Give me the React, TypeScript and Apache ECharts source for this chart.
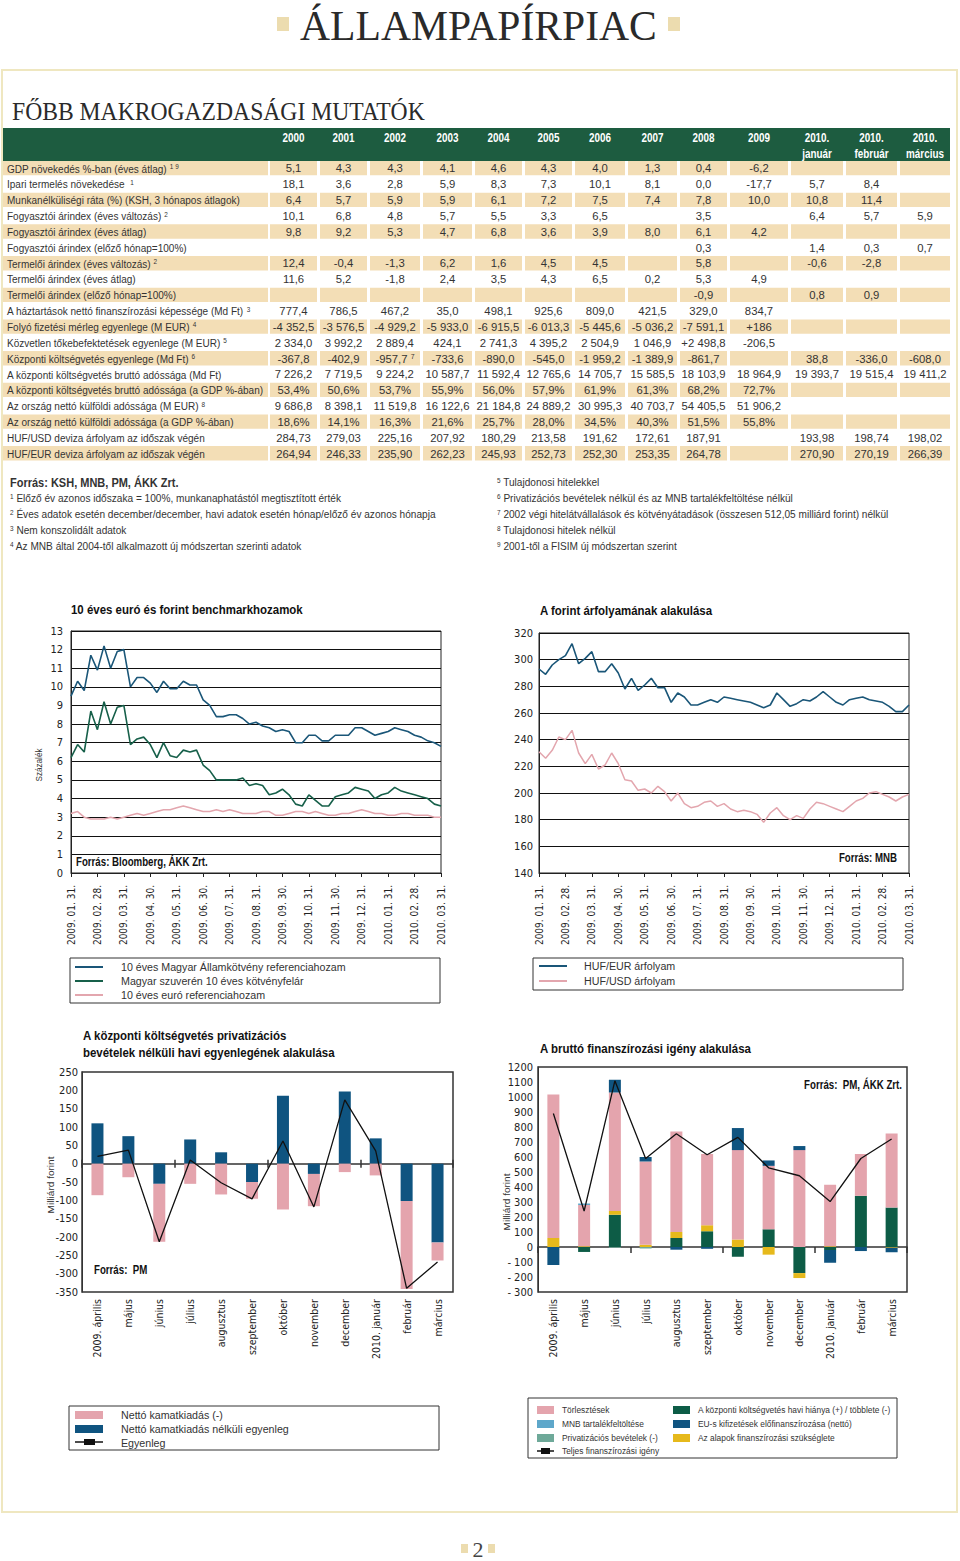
import React, { useEffect, useRef } from 'react';
import * as echarts from 'echarts';

const NARROW = "'Liberation Sans Narrow', 'Arial Narrow', 'DejaVu Sans Condensed', sans-serif";
const SANS = "'Liberation Sans', Arial, sans-serif";
const SERIF = "'Liberation Serif', 'DejaVu Serif', serif";

// ---------- Table data ----------
const YEARS = ['2000', '2001', '2002', '2003', '2004', '2005', '2006', '2007', '2008', '2009', '2010.\njanuár', '2010.\nfebruár', '2010.\nmárcius'];
const ROW_LABELS = [
  'GDP növekedés %-ban (éves átlag)',
  'Ipari termelés növekedése ',
  'Munkanélküliségi ráta (%) (KSH, 3 hónapos átlagok)',
  'Fogyasztói árindex (éves változás)',
  'Fogyasztói árindex (éves átlag)',
  'Fogyasztói árindex (előző hónap=100%)',
  'Termelői árindex (éves változás)',
  'Termelői árindex (éves átlag)',
  'Termelői árindex (előző hónap=100%)',
  'A háztartások nettó finanszírozási képessége (Md Ft)',
  'Folyó fizetési mérleg egyenlege (M EUR)',
  'Közvetlen tőkebefektetések egyenlege (M EUR)',
  'Központi költségvetés egyenlege (Md Ft)',
  'A központi költségvetés bruttó adóssága (Md Ft)',
  'A központi költségvetés bruttó adóssága (a GDP %-ában)',
  'Az ország nettó külföldi adóssága (M EUR)',
  'Az ország nettó külföldi adóssága (a GDP %-ában)',
  'HUF/USD deviza árfolyam az időszak végén',
  'HUF/EUR deviza árfolyam az időszak végén',
];
const ROW_NOTES = ['1 9', '1', '', '2', '', '', '2', '', '', '3', '4', '5', '6', '', '', '8', '', '', ''];
const GDP = ['5,1', '4,3', '4,3', '4,1', '4,6', '4,3', '4,0', '1,3', '0,4', '-6,2', '', '', ''];
const IPAR = ['18,1', '3,6', '2,8', '5,9', '8,3', '7,3', '10,1', '8,1', '0,0', '-17,7', '5,7', '8,4', ''];
const MUNKA = ['6,4', '5,7', '5,9', '5,9', '6,1', '7,2', '7,5', '7,4', '7,8', '10,0', '10,8', '11,4', ''];
const CPI_VALT = ['10,1', '6,8', '4,8', '5,7', '5,5', '3,3', '6,5', '', '3,5', '', '6,4', '5,7', '5,9'];
const CPI_ATL = ['9,8', '9,2', '5,3', '4,7', '6,8', '3,6', '3,9', '8,0', '6,1', '4,2', '', '', ''];
const CPI_HO = ['', '', '', '', '', '', '', '', '0,3', '', '1,4', '0,3', '0,7'];
const PPI_VALT = ['12,4', '-0,4', '-1,3', '6,2', '1,6', '4,5', '4,5', '', '5,8', '', '-0,6', '-2,8', ''];
const PPI_ATL = ['11,6', '5,2', '-1,8', '2,4', '3,5', '4,3', '6,5', '0,2', '5,3', '4,9', '', '', ''];
const PPI_HO = ['', '', '', '', '', '', '', '', '-0,9', '', '0,8', '0,9', ''];
const HAZTART = ['777,4', '786,5', '467,2', '35,0', '498,1', '925,6', '809,0', '421,5', '329,0', '834,7', '', '', ''];
const FOLYO = ['-4 352,5', '-3 576,5', '-4 929,2', '-5 933,0', '-6 915,5', '-6 013,3', '-5 445,6', '-5 036,2', '-7 591,1', '+186', '', '', ''];
const FDI = ['2 334,0', '3 992,2', '2 889,4', '424,1', '2 741,3', '4 395,2', '2 504,9', '1 046,9', '+2 498,8', '-206,5', '', '', ''];
const KOLTS = ['-367,8', '-402,9', '-957,7', '-733,6', '-890,0', '-545,0', '-1 959,2', '-1 389,9', '-861,7', '', '38,8', '-336,0', '-608,0'];
const ADOS_MD = ['7 226,2', '7 719,5', '9 224,2', '10 587,7', '11 592,4', '12 765,6', '14 705,7', '15 585,5', '18 103,9', '18 964,9', '19 393,7', '19 515,4', '19 411,2'];
const ADOS_GDP = ['53,4%', '50,6%', '53,7%', '55,9%', '56,0%', '57,9%', '61,9%', '61,3%', '68,2%', '72,7%', '', '', ''];
const KULF_EUR = ['9 686,8', '8 398,1', '11 519,8', '16 122,6', '21 184,8', '24 889,2', '30 995,3', '40 703,7', '54 405,5', '51 906,2', '', '', ''];
const KULF_GDP = ['18,6%', '14,1%', '16,3%', '21,6%', '25,7%', '28,0%', '34,5%', '40,3%', '51,5%', '55,8%', '', '', ''];
const HUFUSD_VEG = ['284,73', '279,03', '225,16', '207,92', '180,29', '213,58', '191,62', '172,61', '187,91', '', '193,98', '198,74', '198,02'];
const HUFEUR_VEG = ['264,94', '246,33', '235,90', '262,23', '245,93', '252,73', '252,30', '253,35', '264,78', '', '270,90', '270,19', '266,39'];
const TABLE_ROWS = [GDP, IPAR, MUNKA, CPI_VALT, CPI_ATL, CPI_HO, PPI_VALT, PPI_ATL, PPI_HO, HAZTART, FOLYO, FDI, KOLTS, ADOS_MD, ADOS_GDP, KULF_EUR, KULF_GDP, HUFUSD_VEG, HUFEUR_VEG];
const CELL_NOTE = { row: 12, col: 2, note: '7' };

const SOURCE_TABLE = 'Forrás: KSH, MNB, PM, ÁKK Zrt.';
const FOOTNOTES_LEFT = [
  ['1', 'Előző év azonos időszaka = 100%, munkanaphatástól megtisztított érték'],
  ['2', 'Éves adatok esetén december/december, havi adatok esetén hónap/előző év azonos hónapja'],
  ['3', 'Nem konszolidált adatok'],
  ['4', 'Az MNB által 2004-től alkalmazott új módszertan szerinti adatok'],
];
const FOOTNOTES_RIGHT = [
  ['5', 'Tulajdonosi hitelekkel'],
  ['6', 'Privatizációs bevételek nélkül és az MNB tartalékfeltöltése nélkül'],
  ['7', '2002 végi hitelátvállalások és kötvényátadások (összesen 512,05 milliárd forint) nélkül'],
  ['8', 'Tulajdonosi hitelek nélkül'],
  ['9', '2001-től a FISIM új módszertan szerint'],
];

// ---------- Line charts (4 samples per month, 2009.01.31 – 2010.03.31) ----------
const DATE_LABELS = ['2009. 01. 31.', '2009. 02. 28.', '2009. 03. 31.', '2009. 04. 30.', '2009. 05. 31.', '2009. 06. 30.', '2009. 07. 31.', '2009. 08. 31.', '2009. 09. 30.', '2009. 10. 31.', '2009. 11. 30.', '2009. 12. 31.', '2010. 01. 31.', '2010. 02. 28.', '2010. 03. 31.'];
const HU_YIELD = [9.5, 10.3, 9.8, 11.7, 10.9, 12.2, 11.0, 11.9, 12.0, 10.0, 10.5, 10.5, 10.2, 9.7, 10.3, 9.9, 9.9, 10.3, 10.1, 10.1, 9.3, 9.0, 8.4, 8.4, 8.5, 8.5, 8.3, 8.0, 8.1, 7.9, 7.8, 7.6, 7.7, 7.6, 7.0, 7.0, 7.4, 7.4, 7.1, 7.1, 7.4, 7.4, 7.4, 7.8, 7.8, 7.6, 7.4, 7.5, 7.6, 7.8, 7.7, 7.6, 7.4, 7.3, 7.1, 7.0, 6.8];
const HU_SPREAD = [6.2, 6.9, 6.5, 8.7, 7.7, 9.2, 8.0, 8.9, 9.0, 6.9, 7.2, 7.3, 6.9, 6.2, 7.0, 6.3, 6.2, 6.6, 6.5, 6.6, 5.8, 5.5, 5.0, 5.0, 5.0, 5.0, 5.1, 4.7, 4.8, 4.7, 4.2, 4.3, 4.5, 4.2, 3.7, 3.6, 4.2, 3.9, 3.6, 3.6, 4.1, 4.2, 4.3, 4.6, 4.5, 4.4, 4.0, 4.2, 4.3, 4.6, 4.4, 4.3, 4.2, 4.1, 4.0, 3.7, 3.6];
const EUR_YIELD = [3.2, 3.3, 3.0, 2.9, 2.9, 2.9, 3.0, 2.9, 3.0, 3.1, 3.2, 3.1, 3.2, 3.3, 3.4, 3.4, 3.5, 3.6, 3.5, 3.4, 3.3, 3.3, 3.4, 3.3, 3.4, 3.3, 3.2, 3.2, 3.2, 3.3, 3.3, 3.1, 3.1, 3.2, 3.3, 3.3, 3.2, 3.3, 3.2, 3.1, 3.1, 3.2, 3.2, 3.3, 3.4, 3.3, 3.2, 3.2, 3.1, 3.1, 3.2, 3.2, 3.1, 3.1, 3.1, 3.0, 3.0];
const HUF_EUR = [293, 289, 296, 300, 303, 312, 297, 301, 306, 291, 291, 297, 290, 278, 286, 277, 281, 286, 279, 279, 268, 275, 272, 266, 266, 268, 270, 268, 272, 271, 270, 269, 268, 266, 264, 266, 275, 270, 265, 267, 270, 269, 272, 276, 272, 268, 266, 270, 271, 272, 270, 269, 268, 265, 261, 261, 266];
const HUF_USD = [231, 226, 232, 242, 240, 247, 230, 222, 229, 218, 221, 230, 222, 210, 209, 202, 203, 200, 205, 201, 194, 200, 192, 189, 190, 193, 194, 190, 192, 188, 186, 187, 186, 184, 178, 185, 189, 183, 180, 183, 181, 188, 193, 192, 190, 188, 186, 190, 194, 196, 200, 201, 199, 197, 194, 197, 199];

// ---------- Bar charts ----------
const MONTHS = ['2009. április', 'május', 'június', 'július', 'augusztus', 'szeptember', 'október', 'november', 'december', '2010. január', 'február', 'március'];
const KAMAT_NELKULI = [110, 75, -55, 66, 31, -50, 185, -28, 197, 69, -102, -215];
const KAMATKIADAS = [-86, -37, -158, -55, -84, -46, -125, -88, -23, -32, -240, -49];
const EGYENLEG = [20, 37, -213, 10, -52, -96, 62, -118, 174, 35, -340, -268];

const TORLESZTES = [956, 275, 790, 555, 670, 475, 596, 423, 646, 410, 279, 493];
const MNB_TARTALEK = [0, 10, 0, 0, 0, 0, 0, 0, 0, 0, 0, 0];
const PRIVATIZACIO = [0, 0, -5, -10, 0, 0, 0, 0, 0, 0, 0, 0];
const KOZPONTI_HIANY = [0, -33, 215, 0, 60, 105, -65, 118, -174, -20, 341, 263];
const EU_ELOFIN = [-120, 0, 85, 30, -18, -12, 147, 36, 27, -85, -27, -30];
const ALAPOK = [60, 5, 25, 15, 40, 40, 50, -51, -33, 5, 0, -5];
const TELJES = [890, 240, 1108, 590, 755, 615, 731, 528, 475, 303, 590, 720];

// ---------- colours ----------
const TXT = '#333';
const HDR_GREEN = '#1d5c40';
const BEIGE = '#f3deb6';
const FRAME = '#efe7c0';
const DECOR = '#ecdcaf';
const PINK = '#e4a4ad';
const BLUE = '#0f5480';
const DKGREEN = '#0d5c46';
const YELLOW = '#e6b91b';
const LTBLUE = '#5ea7ca';
const TEAL = '#6ea999';
const L_BLUE = '#1a5678';
const L_GREEN = '#17604a';
const L_PINK = '#e3a6ae';

let _ctx: CanvasRenderingContext2D | null = null;
function measure(text: string, font: string): number {
  if (!_ctx) _ctx = document.createElement('canvas').getContext('2d');
  if (!_ctx) return text.length * 6;
  _ctx.font = font;
  return _ctx.measureText(text).width;
}
const fit = (text: string, font: string, target: number) => target / measure(text, font);

function txt(x: number, y: number, text: string, o: any = {}) {
  const style: any = {
    text,
    fill: o.fill || TXT,
    fontSize: o.size || 11,
    fontFamily: o.family || SANS,
    fontWeight: o.weight || 'normal',
    align: o.align || 'left',
    textAlign: o.align || 'left',
    verticalAlign: o.va || 'middle',
    textVerticalAlign: o.va || 'middle',
  };
  if (o.rich) style.rich = o.rich;
  return {
    type: 'text', x, y, silent: true, z: 100,
    rotation: o.rotation || 0,
    scaleX: o.sx || 1,
    style,
  };
}
function rect(x: number, y: number, w: number, h: number, fill: string, stroke?: string, lw = 1) {
  return {
    type: 'rect', silent: true, z: 90,
    shape: { x, y, width: w, height: h },
    style: stroke ? { fill: 'transparent', stroke, lineWidth: lw } : { fill },
  };
}
function seg(x1: number, y1: number, x2: number, y2: number, color: string, lw = 1.5) {
  return { type: 'line', silent: true, z: 95, shape: { x1, y1, x2, y2 }, style: { stroke: color, lineWidth: lw } };
}

const SUP_RICH = { s: { fontSize: 7, fontFamily: SANS, fill: TXT, verticalAlign: 'top' } };

function buildGraphics() {
  const els: any[] = [];
  const F_LABEL = fit(ROW_LABELS[14], `11px ${SANS}`, 257);
  const F_VAL = fit('19 393,7', `11.5px ${SANS}`, 44);
  const F_FOOT = fit(FOOTNOTES_LEFT[1][1], `11px ${SANS}`, 420);
  const F_BOLD = fit('10 éves euró és forint benchmarkhozamok', `bold 12.5px ${SANS}`, 232);
  const F_HDR = fit('2000', `bold 12px ${SANS}`, 22);
  const F_SRC = fit('Forrás: Bloomberg, ÁKK Zrt.', `bold 12px ${SANS}`, 132);
  const F_LEG = fit('10 éves Magyar Államkötvény referenciahozam', `11.5px ${SANS}`, 225);
  const F_LEG4 = fit('A központi költségvetés havi hiánya (+) / többlete (-)', `9.5px ${SANS}`, 193);
  const F_MF = fit('Milliárd forint', `9.5px ${SANS}`, 57);
  const F_SZ = fit('Százalék', `9.5px ${SANS}`, 33);

  // page frame & headings
  els.push(rect(2, 70, 955, 1442, '', FRAME, 2));
  const tw = measure('ÁLLAMPAPÍRPIAC', `42px ${SERIF}`);
  els.push(txt(300, 26, 'ÁLLAMPAPÍRPIAC', { family: SERIF, size: 42, fill: '#2a2a2a', sx: 357 / tw }));
  els.push(rect(277, 17, 12, 14, DECOR));
  els.push(rect(668, 17, 12, 14, DECOR));
  const sw = measure('FŐBB MAKROGAZDASÁGI MUTATÓK', `25px ${SERIF}`);
  els.push(txt(12, 111, 'FŐBB MAKROGAZDASÁGI MUTATÓK', { family: SERIF, size: 25, fill: '#2a2a2a', sx: 413 / sw }));

  // table
  const COLS = [[270, 317], [320, 367], [370, 420], [423, 472], [475, 522], [525, 572], [575, 625], [628, 677], [680, 727], [730, 788], [791, 843], [846, 897], [900, 950]];
  const Y0 = 160.5, RH = 15.84;
  els.push(rect(3, 128, 947, 33, HDR_GREEN));
  YEARS.forEach((yr, j) => {
    const cx = (COLS[j][0] + COLS[j][1]) / 2;
    const parts = yr.split('\n');
    els.push(txt(cx, 138, parts[0], { fill: '#fff', weight: 'bold', size: 12, align: 'center', sx: F_HDR }));
    if (parts[1]) els.push(txt(cx, 154, parts[1], { fill: '#fff', weight: 'bold', size: 12, align: 'center', sx: F_HDR }));
  });
  TABLE_ROWS.forEach((vals, i) => {
    const top = Y0 + i * RH;
    const cy = top + RH / 2;
    if (i % 2 === 0) {
      els.push(rect(3, top + 0.5, 265, RH - 1.5, BEIGE));
      COLS.forEach(([a, b]) => els.push(rect(a, top + 0.5, b - a, RH - 1.5, BEIGE)));
    }
    const note = ROW_NOTES[i];
    els.push(txt(7, cy, note ? `${ROW_LABELS[i]} {s|${note}}` : ROW_LABELS[i], { size: 11, rich: SUP_RICH, sx: F_LABEL }));
    vals.forEach((v, j) => {
      if (!v) return;
      const cx = (COLS[j][0] + COLS[j][1]) / 2;
      const withNote = CELL_NOTE.row === i && CELL_NOTE.col === j;
      els.push(txt(cx, cy, withNote ? `${v} {s|${CELL_NOTE.note}}` : v, { size: 11.5, align: 'center', rich: SUP_RICH, sx: F_VAL }));
    });
  });

  // footnotes
  els.push(txt(10, 483, SOURCE_TABLE, { weight: 'bold', size: 12, sx: F_BOLD }));
  FOOTNOTES_LEFT.forEach(([n, t], k) => els.push(txt(10, 498 + k * 16, `{s|${n}} ${t}`, { size: 11, rich: SUP_RICH, sx: F_FOOT })));
  FOOTNOTES_RIGHT.forEach(([n, t], k) => els.push(txt(497, 482 + k * 16, `{s|${n}} ${t}`, { size: 11, rich: SUP_RICH, sx: F_FOOT })));

  // chart 1 texts
  els.push(txt(71, 610, '10 éves euró és forint benchmarkhozamok', { weight: 'bold', size: 12.5, fill: '#111', sx: F_BOLD }));
  els.push(txt(39, 765, 'Százalék', { size: 9.5, align: 'center', rotation: Math.PI / 2, sx: F_SZ }));
  els.push(txt(76, 862, 'Forrás: Bloomberg, ÁKK Zrt.', { weight: 'bold', size: 12, fill: '#111', sx: F_SRC }));
  els.push(rect(70, 958, 370, 45, '', '#333', 1));
  [[L_BLUE, '10 éves Magyar Államkötvény referenciahozam'], [L_GREEN, 'Magyar szuverén 10 éves kötvényfelár'], [L_PINK, '10 éves euró referenciahozam']].forEach(([c, t], k) => {
    els.push(seg(75, 967 + k * 14, 103, 967 + k * 14, c, 2));
    els.push(txt(121, 967 + k * 14, t, { size: 11.5, sx: F_LEG }));
  });

  // chart 2 texts
  els.push(txt(540, 611, 'A forint árfolyamának alakulása', { weight: 'bold', size: 12.5, fill: '#111', sx: F_BOLD }));
  els.push(txt(897, 858, 'Forrás: MNB', { weight: 'bold', size: 12, fill: '#111', align: 'right', sx: F_SRC }));
  els.push(rect(533, 958, 370, 32, '', '#333', 1));
  [[L_BLUE, 'HUF/EUR árfolyam'], [L_PINK, 'HUF/USD árfolyam']].forEach(([c, t], k) => {
    els.push(seg(539, 966 + k * 15, 567, 966 + k * 15, c, 2));
    els.push(txt(584, 966 + k * 15, t, { size: 11.5, sx: F_LEG }));
  });

  // chart 3 texts
  els.push(txt(83, 1036, 'A központi költségvetés privatizációs', { weight: 'bold', size: 12.5, fill: '#111', sx: F_BOLD }));
  els.push(txt(83, 1053, 'bevételek nélküli havi egyenlegének alakulása', { weight: 'bold', size: 12.5, fill: '#111', sx: F_BOLD }));
  els.push(txt(51, 1185, 'Milliárd forint', { size: 9.5, align: 'center', rotation: Math.PI / 2, sx: F_MF }));
  els.push(txt(94, 1270, 'Forrás:  PM', { weight: 'bold', size: 12, fill: '#111', sx: F_SRC }));
  els.push(rect(69, 1406, 370, 44, '', '#333', 1));
  els.push(rect(75, 1411, 28, 8, PINK));
  els.push(rect(75, 1425, 28, 8, BLUE));
  els.push(seg(75, 1442, 103, 1442, '#111', 1.5));
  els.push(rect(84, 1439, 11, 6, '#111'));
  els.push(txt(121, 1415, 'Nettó kamatkiadás (-)', { size: 11.5, sx: F_LEG }));
  els.push(txt(121, 1429, 'Nettó kamatkiadás nélküli egyenleg', { size: 11.5, sx: F_LEG }));
  els.push(txt(121, 1443, 'Egyenleg', { size: 11.5, sx: F_LEG }));

  // chart 4 texts
  els.push(txt(540, 1049, 'A bruttó finanszírozási igény alakulása', { weight: 'bold', size: 12.5, fill: '#111', sx: F_BOLD }));
  els.push(txt(902, 1085, 'Forrás:  PM, ÁKK Zrt.', { weight: 'bold', size: 12, fill: '#111', align: 'right', sx: F_SRC }));
  els.push(txt(507, 1202, 'Milliárd forint', { size: 9.5, align: 'center', rotation: Math.PI / 2, sx: F_MF }));
  els.push(rect(528, 1398, 369, 60, '', '#333', 1));
  const leftItems: [string, string][] = [[PINK, 'Törlesztések'], [LTBLUE, 'MNB tartalékfeltöltése'], [TEAL, 'Privatizációs bevételek (-)']];
  leftItems.forEach(([c, t], k) => {
    els.push(rect(537, 1406 + k * 14, 17, 8, c));
    els.push(txt(562, 1410 + k * 14, t, { size: 9.5, sx: F_LEG4 }));
  });
  els.push(seg(537, 1451, 554, 1451, '#111', 1.5));
  els.push(rect(541, 1448, 9, 6, '#111'));
  els.push(txt(562, 1451, 'Teljes finanszírozási igény', { size: 9.5, sx: F_LEG4 }));
  const rightItems: [string, string][] = [[DKGREEN, 'A központi költségvetés havi hiánya (+) / többlete (-)'], [BLUE, 'EU-s kifizetések előfinanszírozása (nettó)'], [YELLOW, 'Az alapok finanszírozási szükséglete']];
  rightItems.forEach(([c, t], k) => {
    els.push(rect(673, 1406 + k * 14, 17, 8, c));
    els.push(txt(698, 1410 + k * 14, t, { size: 9.5, sx: F_LEG4 }));
  });

  // page number
  els.push(txt(478, 1549, '2', { family: SERIF, size: 22, fill: '#444', align: 'center' }));
  els.push(rect(461, 1544, 7, 9, DECOR));
  els.push(rect(488, 1544, 7, 9, DECOR));
  return els;
}

function buildOption() {
  const axisLabelBase = { fontFamily: NARROW, color: '#222', fontSize: 11 };
  const dateAxis = (gridIndex: number) => ({
    gridIndex, type: 'value', min: 0, max: 56, interval: 4,
    axisLine: { show: true, onZero: false, lineStyle: { color: '#222', width: 1 } },
    axisTick: { show: true, length: 4, lineStyle: { color: '#222' } },
    axisLabel: { ...axisLabelBase, fontSize: 10, rotate: 90, margin: 12, formatter: (v: number) => DATE_LABELS[Math.round(v / 4)] ?? '' },
    splitLine: { show: false },
  });
  const catLabelAxis = (gridIndex: number) => ({
    gridIndex, type: 'category', data: MONTHS, position: 'bottom',
    axisLine: { show: false, onZero: false },
    axisTick: { show: false },
    axisLabel: { ...axisLabelBase, fontSize: 10.5, rotate: 90, margin: 7, interval: 0 },
    splitLine: { show: false },
  });
  const zeroAxis = (gridIndex: number, yIdx: number, inside: boolean, showLine: boolean, len: number) => ({
    gridIndex, type: 'category', data: MONTHS, position: 'bottom',
    axisLine: { show: showLine, onZero: true, onZeroAxisIndex: yIdx, lineStyle: { color: '#333', width: 1.5 } },
    axisTick: { show: true, inside, length: len, lineStyle: { color: '#333', width: 1.5 } },
    axisLabel: { show: false },
    splitLine: { show: false },
  });
  const lineData = (arr: number[]) => arr.map((v, i) => [i, v]);

  return {
    animation: false,
    backgroundColor: '#ffffff',
    textStyle: { fontFamily: NARROW },
    grid: [
      { left: 71, top: 631, width: 370, height: 242, show: true, borderColor: '#222', borderWidth: 1 },
      { left: 539, top: 633, width: 370, height: 240, show: true, borderColor: '#222', borderWidth: 1 },
      { left: 82, top: 1072, width: 371, height: 220, show: true, borderColor: '#333', borderWidth: 1.5 },
      { left: 538, top: 1067, width: 369, height: 225, show: true, borderColor: '#333', borderWidth: 1.5 },
    ],
    xAxis: [
      dateAxis(0),
      dateAxis(1),
      catLabelAxis(2),
      zeroAxis(2, 2, false, true, 4),
      zeroAxis(2, 2, true, false, 4),
      catLabelAxis(3),
      zeroAxis(3, 3, false, true, 6),
    ],
    yAxis: [
      {
        gridIndex: 0, type: 'value', min: 0, max: 13, interval: 1,
        axisLine: { show: true, lineStyle: { color: '#222' } }, axisTick: { show: false },
        axisLabel: { ...axisLabelBase, margin: 8 },
        splitLine: { show: true, lineStyle: { color: '#111', width: 1 } },
      },
      {
        gridIndex: 1, type: 'value', min: 140, max: 320, interval: 20,
        axisLine: { show: true, lineStyle: { color: '#222' } }, axisTick: { show: false },
        axisLabel: { ...axisLabelBase, margin: 6 },
        splitLine: { show: true, lineStyle: { color: '#111', width: 1 } },
      },
      {
        gridIndex: 2, type: 'value', min: -350, max: 250, interval: 50,
        axisLine: { show: true, lineStyle: { color: '#333' } }, axisTick: { show: false },
        axisLabel: { ...axisLabelBase, margin: 4 },
        splitLine: { show: false },
      },
      {
        gridIndex: 3, type: 'value', min: -300, max: 1200, interval: 100,
        axisLine: { show: true, lineStyle: { color: '#333' } }, axisTick: { show: false },
        axisLabel: { ...axisLabelBase, margin: 5, formatter: (v: number) => (v < 0 ? `- ${-v}` : `${v}`) },
        splitLine: { show: false },
      },
    ],
    series: [
      { name: '10 éves euró referenciahozam', type: 'line', xAxisIndex: 0, yAxisIndex: 0, data: lineData(EUR_YIELD), showSymbol: false, lineStyle: { color: L_PINK, width: 1.5 }, itemStyle: { color: L_PINK } },
      { name: 'Magyar szuverén 10 éves kötvényfelár', type: 'line', xAxisIndex: 0, yAxisIndex: 0, data: lineData(HU_SPREAD), showSymbol: false, lineStyle: { color: L_GREEN, width: 1.6 }, itemStyle: { color: L_GREEN } },
      { name: '10 éves Magyar Államkötvény referenciahozam', type: 'line', xAxisIndex: 0, yAxisIndex: 0, data: lineData(HU_YIELD), showSymbol: false, lineStyle: { color: L_BLUE, width: 1.6 }, itemStyle: { color: L_BLUE } },
      { name: 'HUF/EUR árfolyam', type: 'line', xAxisIndex: 1, yAxisIndex: 1, data: lineData(HUF_EUR), showSymbol: false, lineStyle: { color: L_BLUE, width: 1.6 }, itemStyle: { color: L_BLUE } },
      { name: 'HUF/USD árfolyam', type: 'line', xAxisIndex: 1, yAxisIndex: 1, data: lineData(HUF_USD), showSymbol: false, lineStyle: { color: L_PINK, width: 1.5 }, itemStyle: { color: L_PINK } },

      { name: 'Nettó kamatkiadás nélküli egyenleg', type: 'bar', xAxisIndex: 2, yAxisIndex: 2, stack: 'c3', barWidth: 12, data: KAMAT_NELKULI, itemStyle: { color: BLUE } },
      { name: 'Nettó kamatkiadás (-)', type: 'bar', xAxisIndex: 2, yAxisIndex: 2, stack: 'c3', barWidth: 12, data: KAMATKIADAS, itemStyle: { color: PINK } },
      { name: 'Egyenleg', type: 'line', xAxisIndex: 2, yAxisIndex: 2, data: EGYENLEG, showSymbol: false, z: 5, lineStyle: { color: '#111', width: 1.3 }, itemStyle: { color: '#111' } },

      { name: 'A központi költségvetés havi hiánya (+) / többlete (-)', type: 'bar', xAxisIndex: 5, yAxisIndex: 3, stack: 'c4', barWidth: 12, data: KOZPONTI_HIANY, itemStyle: { color: DKGREEN } },
      { name: 'Az alapok finanszírozási szükséglete', type: 'bar', xAxisIndex: 5, yAxisIndex: 3, stack: 'c4', barWidth: 12, data: ALAPOK, itemStyle: { color: YELLOW } },
      { name: 'Törlesztések', type: 'bar', xAxisIndex: 5, yAxisIndex: 3, stack: 'c4', barWidth: 12, data: TORLESZTES, itemStyle: { color: PINK } },
      { name: 'MNB tartalékfeltöltése', type: 'bar', xAxisIndex: 5, yAxisIndex: 3, stack: 'c4', barWidth: 12, data: MNB_TARTALEK, itemStyle: { color: LTBLUE } },
      { name: 'EU-s kifizetések előfinanszírozása (nettó)', type: 'bar', xAxisIndex: 5, yAxisIndex: 3, stack: 'c4', barWidth: 12, data: EU_ELOFIN, itemStyle: { color: BLUE } },
      { name: 'Privatizációs bevételek (-)', type: 'bar', xAxisIndex: 5, yAxisIndex: 3, stack: 'c4', barWidth: 12, data: PRIVATIZACIO, itemStyle: { color: TEAL } },
      { name: 'Teljes finanszírozási igény', type: 'line', xAxisIndex: 5, yAxisIndex: 3, data: TELJES, showSymbol: false, z: 5, lineStyle: { color: '#111', width: 1.3 }, itemStyle: { color: '#111' } },
    ],
    graphic: { elements: buildGraphics() },
  };
}

export default function App() {
  const ref = useRef<HTMLDivElement>(null);
  useEffect(() => {
    if (!ref.current) return;
    const chart = echarts.init(ref.current, undefined, { renderer: 'svg' });
    chart.setOption(buildOption() as any);
    return () => chart.dispose();
  }, []);
  return <div ref={ref} style={{ position: 'absolute', left: 0, top: 0, width: 960, height: 1561, background: '#fff' }} />;
}
